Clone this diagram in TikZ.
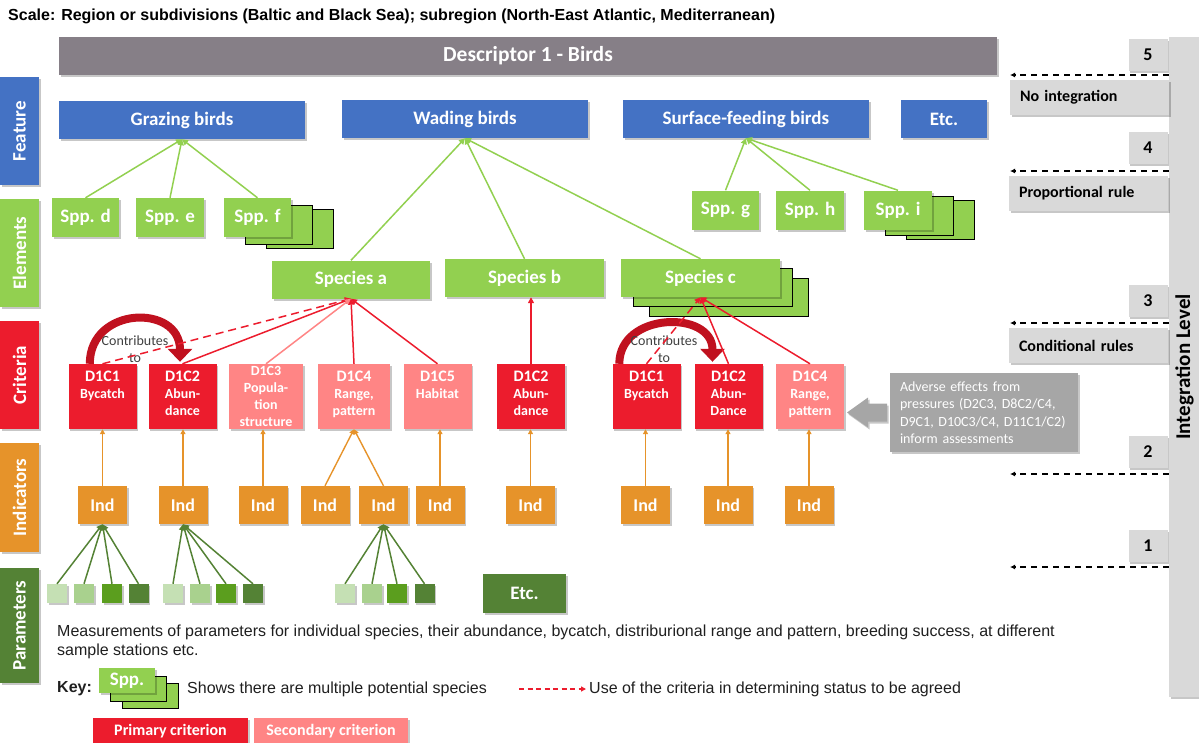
\documentclass[tikz,border=0pt]{standalone}
\usepackage{fontspec}
\setmainfont{Liberation Sans}
\newfontfamily\carlito{Carlito}
\usetikzlibrary{arrows.meta,shadows,calc}

\definecolor{featblue}{HTML}{4472C4}
\definecolor{elgreen}{HTML}{92D050}
\definecolor{primred}{HTML}{EC1C2D}
\definecolor{secred}{HTML}{FF8585}
\definecolor{indorange}{HTML}{E6932A}
\definecolor{pardark}{HTML}{548235}
\definecolor{parA}{HTML}{C5E0B4}
\definecolor{parB}{HTML}{A9D18E}
\definecolor{parC}{HTML}{5B9E1E}
\definecolor{descgray}{HTML}{867F87}
\definecolor{levgray}{HTML}{D9D9D9}
\definecolor{advgray}{HTML}{A6A6A6}
\definecolor{arcred}{HTML}{C0111F}

\newcommand\fnt[2]{\fontsize{#1}{#2}\selectfont}
\newcommand\cname[1]{{\fnt{16}{18}#1}}

\tikzset{
  box/.style={rectangle, inner sep=0pt, text=white, align=center,
    font=\carlito\bfseries\fnt{19}{22},
    drop shadow={shadow xshift=1.5pt, shadow yshift=-2pt, fill=black, opacity=.22}},
  side/.style={box, rotate=90, minimum width=108pt, minimum height=39pt,
    font=\carlito\bfseries\fnt{19}{22}},
  feat/.style={box, fill=featblue, minimum height=38pt, minimum width=#1},
  feat/.default=246pt,
  spp/.style={box, fill=elgreen, minimum height=39pt, minimum width=#1},
  spp/.default=67pt,
  stack/.style n args={4}{
    copy shadow={fill=elgreen, shadow xshift=#1, shadow yshift=#2},
    copy shadow={fill=elgreen, shadow xshift=#3, shadow yshift=#4}},
  crit/.style={box, fill=primred, text width=#1, inner ysep=6pt,
    text height=11pt, text depth=42pt, font=\carlito\bfseries\fnt{14}{17}},
  crit/.default=68pt,
  crit2/.style={crit=#1, fill=secred},
  crit2/.default=68pt,
  ind/.style={box, fill=indorange, minimum width=49pt, minimum height=38pt,
    font=\carlito\bfseries\fnt{18}{21}},
  par/.style={rectangle, inner sep=0pt, minimum width=20pt, minimum height=19pt,
    drop shadow={shadow xshift=1.5pt, shadow yshift=-2pt, fill=black, opacity=.22}},
  lvnum/.style={box, fill=levgray, text=black, minimum width=39pt, minimum height=32pt,
    font=\carlito\bfseries\fnt{18}{21}},
  rulebox/.style={box, fill=levgray, text=black, text width=139pt, align=left,
    inner xsep=10pt, minimum height=35pt, font=\carlito\bfseries\fnt{16}{19}},
  keybox/.style={box, minimum width=155pt, minimum height=26pt,
    font=\carlito\bfseries\fnt{16}{19}},
  plain/.style={inner sep=0pt, font=\fnt{16}{19}, text=black!88},
  featline/.style={draw=elgreen, line width=1.5pt, -{Triangle[length=6pt,width=6pt]}},
  critline/.style={draw=primred, line width=1.5pt, -{Triangle[length=6pt,width=6pt]}},
  secline/.style={critline, draw=secred},
  agreed/.style={critline, dash pattern=on 8pt off 5pt},
  indline/.style={draw=indorange, line width=1.4pt, -{Triangle[length=5pt,width=5pt]}},
  parline/.style={draw=pardark, line width=1.5pt, -{Triangle[length=6pt,width=6pt]}},
  lvline/.style={draw=black, line width=1.3pt, dash pattern=on 6pt off 5pt,
    -{Latex[length=5pt,width=5pt]}},
  contrib/.style={draw=arcred, line width=8pt, -{Triangle[width=24pt,length=13pt]}},
  contxt/.style={inner sep=0pt, align=center, font=\carlito\fnt{14}{17}, text=black!75}
}

\begin{document}
\begin{tikzpicture}[x=1pt, y=-1pt]
\useasboundingbox (0,0) rectangle (1199,742);

\node[anchor=west, plain, font=\bfseries\fnt{16}{19}, text=black] (scale) at (8,16.5)
  {Scale: Region or subdivisions (Baltic and Black Sea); subregion (North-East Atlantic, Mediterranean)};
\node[box, fill=descgray, minimum width=938pt, minimum height=38pt,
  font=\carlito\bfseries\fnt{21.5}{24}] (desc) at (528,56) {Descriptor 1 - Birds};

\node[side, fill=featblue] (lfeat) at (19.5,131) {Feature};
\node[side, fill=elgreen] (lelem) at (19.5,253) {Elements};
\node[side, fill=primred] (lcrit) at (19.5,375) {Criteria};
\node[side, fill=indorange, minimum width=109pt] (lind) at (19.5,497.5) {Indicators};
\node[side, fill=pardark, minimum width=115pt] (lpar) at (19.5,625.5) {Parameters};

\node[feat] (grazing) at (182,120) {Grazing birds};
\node[feat] (wading) at (465,119) {Wading birds};
\node[feat] (surface) at (746,119) {Surface-feeding birds};
\node[feat=86pt] (etcf) at (944,119) {Etc.};

\node[spp] (sppd) at (85.5,217.5) {Spp. d};
\node[spp=68pt] (sppe) at (170,217.5) {Spp. e};
\node[stack={42pt}{-11pt}{21pt}{-7pt}, spp] (sppf) at (257.5,217.5) {Spp. f};
\node[spp] (sppg) at (725.5,210) {Spp. g};
\node[spp=68pt] (spph) at (810,210) {Spp. h};
\node[stack={42pt}{-10pt}{21pt}{-6pt}, spp=68pt] (sppi) at (898,210) {Spp. i};

\node[spp=158pt, minimum height=38pt] (speca) at (351,279.5) {Species a};
\node[spp=159pt, minimum height=38pt] (specb) at (524.5,278) {Species b};
\node[stack={28pt}{-19pt}{12pt}{-9pt}, spp=159pt, minimum height=38pt] (specc) at (700.5,278) {Species c};

\node[crit] (c1a) at (102.5,396.5) {\cname{D1C1}\\Bycatch};
\node[crit] (c2a) at (182.5,396.5) {\cname{D1C2}\\Abun-\\dance};
\node[crit2=74pt, inner ysep=1pt, text height=10pt, text depth=53pt] (c3a) at (266,396.5)
  {D1C3\\Popula-\\tion\\structure};
\node[crit2=72pt] (c4a) at (354,396.5) {\cname{D1C4}\\Range,\\pattern};
\node[crit2] (c5a) at (437.5,396.5) {\cname{D1C5}\\Habitat};
\node[crit] (c2b) at (531,396.5) {\cname{D1C2}\\Abun-\\dance};
\node[crit] (c1c) at (646.5,396.5) {\cname{D1C1}\\Bycatch};
\node[crit] (c2c) at (728.5,396.5) {\cname{D1C2}\\Abun-\\Dance};
\node[crit2] (c4c) at (810,396.5) {\cname{D1C4}\\Range,\\pattern};

\foreach \i/\x in {1/102.5,2/183,3/263,4/325,5/383.5,6/440,7/530.5,8/645.5,9/728,10/809}
  \node[ind] (ind\i) at (\x,505) {Ind};

\foreach \i/\x/\c in {1/57/parA,2/84/parB,3/112/parC,4/138.5/pardark,
  5/173/parA,6/200/parB,7/226/parC,8/253/pardark,
  9/345/parA,10/372/parB,11/397/parC,12/424.5/pardark}
  \node[par, fill=\c] (p\i) at (\x,593.5) {};
\node[box, fill=pardark, minimum width=83pt, minimum height=39pt] (etcp) at (524.5,593.5) {Etc.};

\node[anchor=north west, plain, align=left] (meas) at (57,625)
  {Measurements of parameters for individual species, their abundance, bycatch, distriburional range and pattern, breeding success, at different\\sample stations etc.};

\node[anchor=west, plain, font=\bfseries\fnt{16}{19}] (key) at (57,689) {Key:};
\node[stack={23pt}{-15pt}{11pt}{-8pt}, spp=56pt, minimum height=25pt] (keyspp) at (127,680.5) {Spp.};
\node[anchor=west, plain] (keytxt) at (187,689) {Shows there are multiple potential species};
\node[anchor=west, plain] (keyuse) at (589,689) {Use of the criteria in determining status to be agreed};
\coordinate (keya) at (519,689);
\draw[critline, dash pattern=on 5pt off 3.5pt, -{Triangle[length=5pt,width=5pt]}, shorten >=3pt]
  (keya) -- (keyuse.west);
\node[keybox, fill=primred] (prim) at (170.5,731) {Primary criterion};
\node[keybox, fill=secred, minimum width=154pt] (sec) at (331,731) {Secondary criterion};

\node[box, fill=levgray, text=black, rotate=90, minimum width=660pt, minimum height=31pt,
  font=\carlito\bfseries\fnt{21}{24}] (intbar) at (1184.5,367) {Integration Level};
\node[lvnum] (n5) at (1148,54.5) {5};
\node[lvnum] (n4) at (1148,148) {4};
\node[lvnum] (n3) at (1148,300.5) {3};
\node[lvnum] (n2) at (1148,452) {2};
\node[lvnum] (n1) at (1148,545.5) {1};
\node[rulebox] (noint) at (1089.5,97.5) {No integration};
\node[rulebox] (prop) at (1088.5,193.5) {Proportional rule};
\node[rulebox] (cond) at (1088.5,345.5) {Conditional rules};
\foreach \l/\y in {5/75,4/171,3/323,2/474,1/567} {
  \coordinate (lv\l) at (1010,\y);
  \draw[lvline] (intbar.north |- lv\l) -- (lv\l);
}

\node[box, fill=advgray, text width=168pt, align=left, inner xsep=10pt, minimum height=79pt,
  font=\carlito\fnt{14}{17.5}] (adverse) at (984,412.5)
  {Adverse effects from\\pressures (D2C3, D8C2/C4,\\D9C1, D10C3/C4, D11C1/C2)\\inform assessments};
\fill[advgray, drop shadow={shadow xshift=1.5pt, shadow yshift=-2pt, fill=black, opacity=.22}]
  (887,403.5) -- (868,403.5) -- (868,397.5) -- (847,412.5) -- (868,427.5) -- (868,421.5)
  -- (887,421.5) -- cycle;

\foreach \n in {sppd,sppe,sppf} \draw[featline] (\n.north) -- (grazing.south);
\foreach \n in {speca,specb,specc} \draw[featline] (\n.north) -- (wading.south);
\foreach \n in {sppg,spph,sppi} \draw[featline] (\n.north) -- (surface.south);

\draw[contrib] ($(c1a.north west)+(21.5,0)$) .. controls +(0,-58) and +(0,-58) .. ($(c2a.north)+(-2.5,-2)$);
\draw[contrib] ($(c1c.north west)+(7,0)$) .. controls +(0,-52) and +(0,-52) .. ($(c2c.north)+(-16,-2)$);
\node[contxt] (contra) at (135,349) {Contributes\\to};
\node[contxt] (contrc) at (664,349) {Contributes\\to};

\draw[agreed] (c1a.north) -- (speca.south);
\draw[critline] (c2a.north) -- (speca.south);
\draw[secline] (c3a.north) -- (speca.south);
\foreach \n in {c4a,c5a} \draw[critline] (\n.north) -- (speca.south);
\draw[critline] (c2b.north) -- (c2b.north |- specb.south);
\draw[agreed] (c1c.north) -- (specc.south);
\foreach \n in {c2c,c4c} \draw[critline] (\n.north) -- (specc.south);

\foreach \i/\c in {1/c1a,2/c2a,3/c3a,6/c5a,7/c2b,8/c1c,9/c2c,10/c4c}
  \draw[indline] (ind\i.north) -- (ind\i.north |- \c.south);
\foreach \i in {4,5} \draw[indline] (ind\i.north) -- (c4a.south);

\foreach \i in {1,...,4} \draw[parline] (p\i.north) -- (ind1.south);
\foreach \i in {5,...,8} \draw[parline] (p\i.north) -- (ind2.south);
\foreach \i in {9,...,12} \draw[parline] (p\i.north) -- (ind5.south);
\end{tikzpicture}
\end{document}
